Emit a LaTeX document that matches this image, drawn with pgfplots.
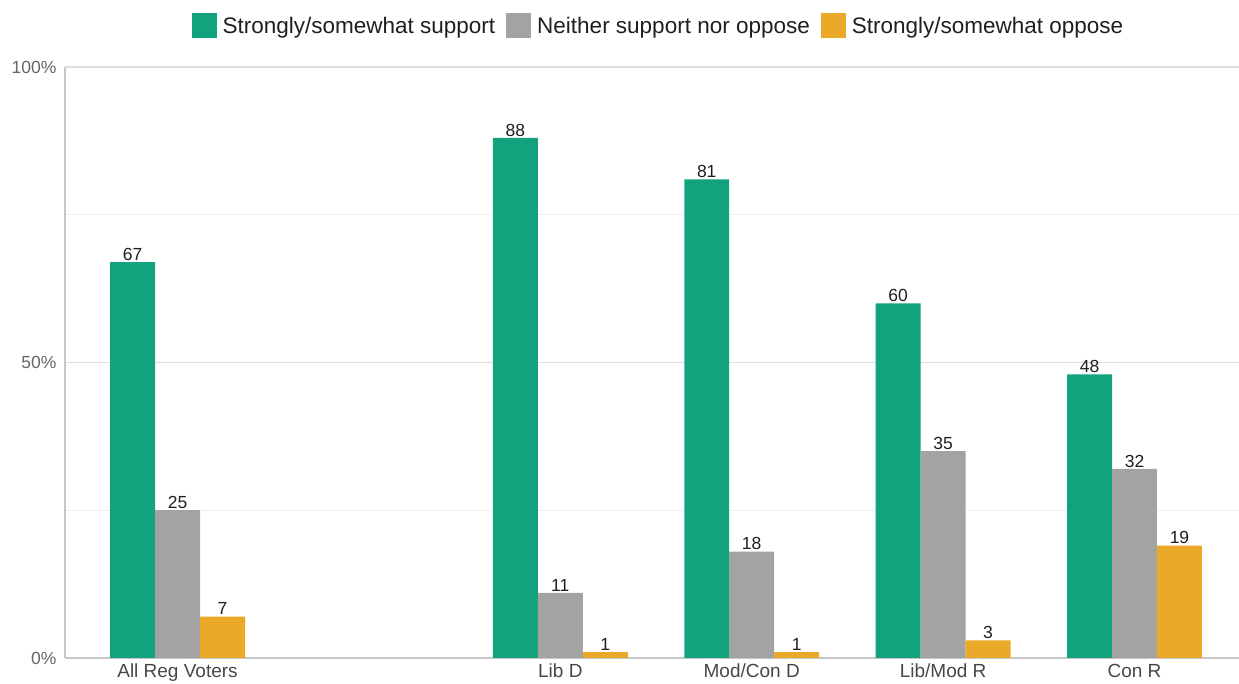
\documentclass[border=0pt]{standalone}
\usepackage{fontspec}
\setmainfont{Liberation Sans}
\usepackage{pgfplots}
\pgfplotsset{compat=1.18}
\definecolor{cgreen}{HTML}{12A37E}
\definecolor{cgray}{HTML}{A3A3A3}
\definecolor{corange}{HTML}{EBA92A}
\begin{document}
\begin{tikzpicture}
\begin{axis}[
  name=ax, at={(0,0)}, anchor=south west,
  scale only axis, width=1174pt, height=591pt,
  xmin=-0.588, xmax=5.546, ymin=0, ymax=100,
  /pgf/number format/assume math mode=true,
  axis x line*=bottom, axis y line*=left,
  axis line style={draw=black!22, line width=1.2pt},
  ytick={0,50,100}, yticklabels={0\%,50\%,100\%},
  minor ytick={25,75},
  ymajorgrids, yminorgrids,
  major grid style={draw=black!13, line width=1.2pt},
  minor grid style={draw=black!6, line width=1.2pt},
  xtick={0,2,3,4,5},
  xticklabels={All Reg Voters, Lib D, Mod/Con D, Lib/Mod R, Con R},
  major tick length=0pt, minor tick length=0pt,
  yticklabel style={font=\fontsize{17.5}{20}\selectfont, text=black!60, xshift=-5pt},
  xticklabel style={font=\fontsize{19}{22}\selectfont, text=black!72, text height=14pt, text depth=4pt, yshift=-2pt},
  ybar=0pt, bar width=0.235,
  nodes near coords,
  every node near coord/.append style={font=\fontsize{17.5}{20}\selectfont, text=black!88, inner sep=1.5pt},
  sqleg/.style={legend image code/.code={\fill[##1] (0pt,-12.5pt) rectangle (25pt,12.5pt);}},
  legend columns=3,
  legend style={at={(0.5055,1.07)}, anchor=center, draw=none, fill=none,
    font=\fontsize{22.5}{26}\selectfont, text=black!88,
    /tikz/every odd column/.append style={column sep=4pt},
    /tikz/every even column/.append style={column sep=9pt}},
]
\addplot[fill=cgreen, draw=none, bar shift=-0.235, sqleg] coordinates {(0,67) (2,88) (3,81) (4,60) (5,48)};
\addplot[fill=cgray, draw=none, bar shift=0, sqleg] coordinates {(0,25) (2,11) (3,18) (4,35) (5,32)};
\addplot[fill=corange, draw=none, bar shift=0.235, sqleg] coordinates {(0,7) (2,1) (3,1) (4,3) (5,19)};
\legend{Strongly/somewhat support, Neither support nor oppose, Strongly/somewhat oppose}
\end{axis}
\pgfresetboundingbox
\path[use as bounding box] (-65pt,-26pt) rectangle (1174pt,658pt);
\end{tikzpicture}
\end{document}
